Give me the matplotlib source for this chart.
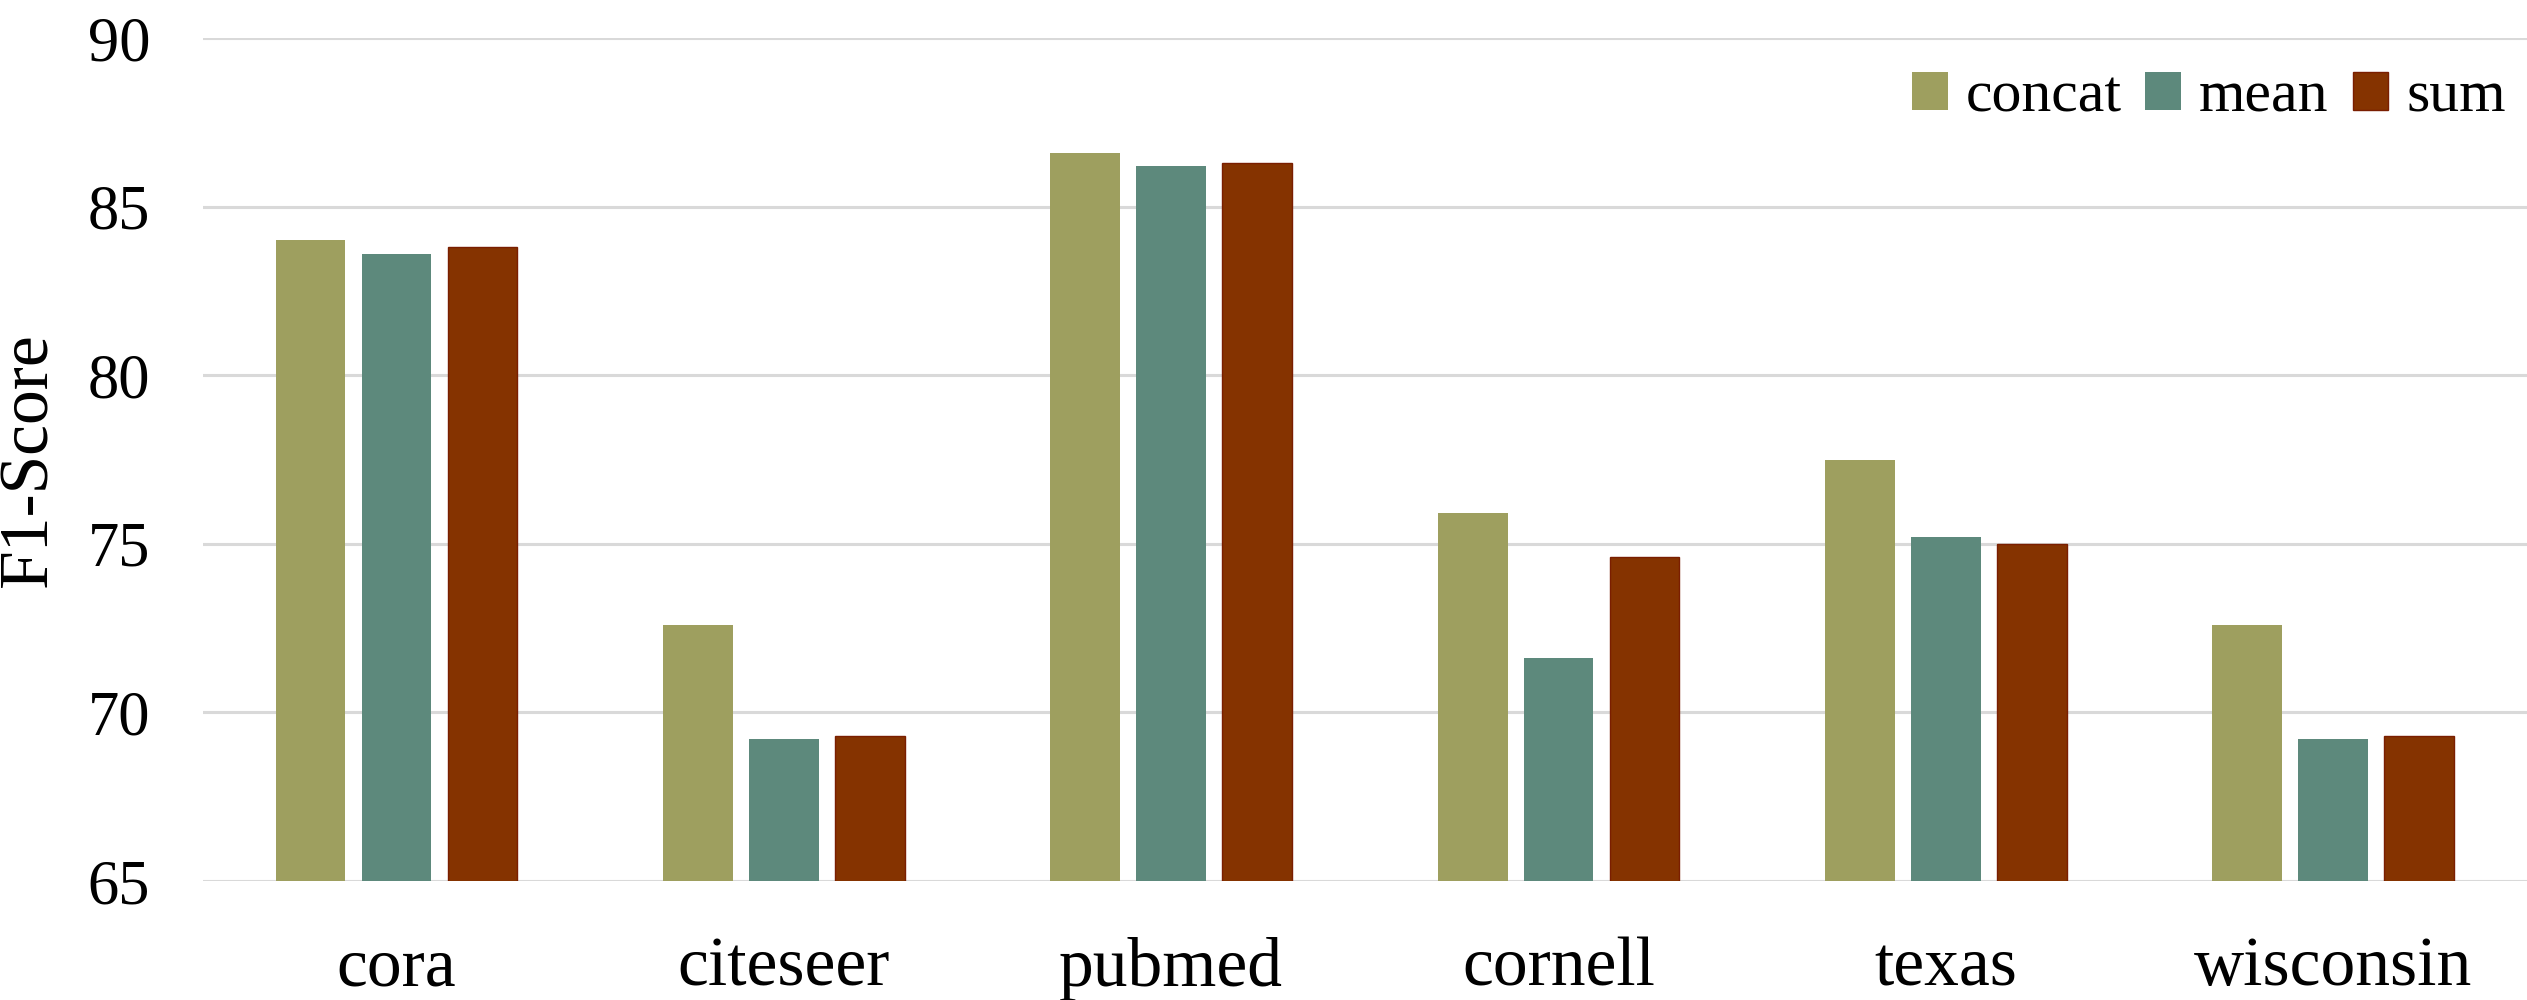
import numpy as np
import matplotlib.pyplot as plt

datasets = ["cora", "citeseer", "pubmed", "cornell", "texas", "wisconsin"]
concat = [84.0, 72.6, 86.6, 75.9, 77.5, 72.6]
mean = [83.6, 69.2, 86.2, 71.6, 75.2, 69.2]
sum_ = [83.8, 69.3, 86.3, 74.6, 75.0, 69.3]

plt.rcParams['font.family'] = ['Liberation Serif', 'DejaVu Serif']

fig = plt.figure(figsize=(25.27, 10), dpi=100)
ax = fig.add_axes([0.0803, 0.119, 0.9197, 0.843])

x = np.arange(len(datasets))
w = 0.18
step = 0.222
ax.bar(x - step, concat, w, color="#9E9F5F", label="concat", zorder=3)
ax.bar(x, mean, w, color="#5D897C", label="mean", zorder=3)
ax.bar(x + step, sum_, w, color="#853300", edgecolor="#7A1E00", linewidth=1,
       label="sum", zorder=3)

ax.set_ylim(65, 90)
ax.set_xlim(-0.5, len(datasets) - 0.5)
ax.set_yticks([65, 70, 75, 80, 85, 90])
ax.set_xticks(x)
ax.set_xticklabels(datasets, fontsize=50)
ax.tick_params(axis='y', labelsize=45, length=0, pad=38)
ax.tick_params(axis='x', length=0, pad=40)
ax.grid(axis='y', color="#D9D9D9", linewidth=2.2, zorder=0)
for s in ax.spines.values():
    s.set_visible(False)

ax.set_ylabel("F1-Score", fontsize=50)
ax.yaxis.set_label_coords(-0.061, 0.5)

ax.legend(loc="upper right", bbox_to_anchor=(1.005, 1.0), ncol=3, frameon=False,
          fontsize=43, handlelength=0.6, handleheight=0.6, handletextpad=0.3,
          columnspacing=0.4, borderaxespad=0.15)

fig.savefig("out.png", dpi=100)
